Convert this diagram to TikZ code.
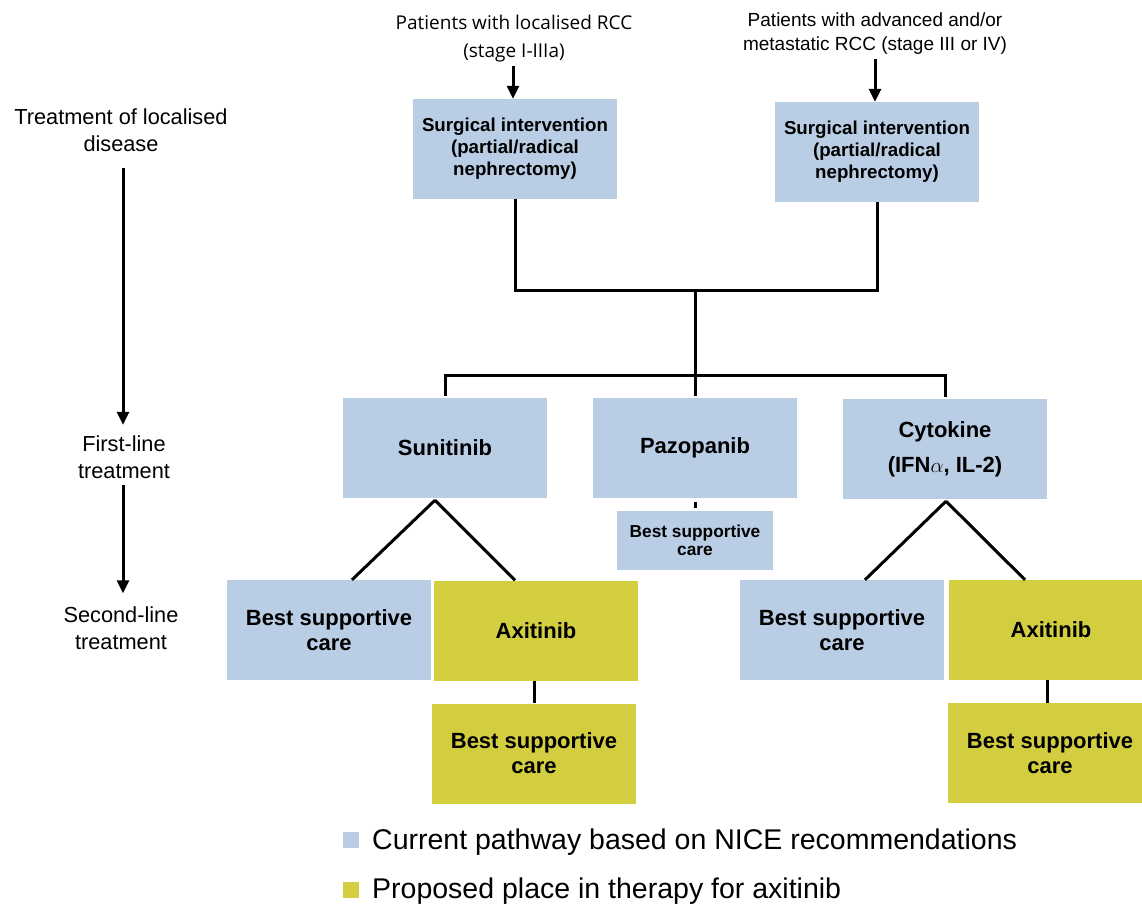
\documentclass[tikz,border=0pt]{standalone}
\usepackage{fontspec}
\setmainfont{Liberation Sans}
\newfontfamily\opensans{Open Sans}
\usetikzlibrary{arrows.meta}
\definecolor{niceblue}{HTML}{B9CDE5}
\definecolor{axiyellow}{HTML}{D3CE40}
\begin{document}
\begin{tikzpicture}[x=1pt,y=-1pt,
  box/.style={fill=niceblue, draw=none, inner sep=0pt, align=center,
    font=\fontsize{22}{25}\selectfont\bfseries,
    minimum width=204pt, minimum height=100pt},
  ybox/.style={box, fill=axiyellow},
  link/.style={line width=3pt, black},
  arr/.style={line width=3pt, black, -{Triangle[length=13pt,width=12pt]}},
  phase/.style={align=center, inner sep=0pt, font=\fontsize{21.75}{27}\selectfont},
  legtext/.style={anchor=base west, inner sep=0pt, font=\fontsize{28.5}{30}\selectfont},
  legsq/.style={minimum size=16pt, inner sep=0pt, draw=none},
]
\useasboundingbox (0,0) rectangle (1142,906);
\clip (0,0) rectangle (1142,906);

% phase labels on the left
\node[phase] (ph1) at (121,130.5) {Treatment of localised\\disease};
\node[phase] (ph2) at (124,457.5) {First-line\\treatment};
\node[phase] (ph3) at (121,628) {Second-line\\treatment};
\draw[arr, shorten <=16pt, shorten >=11pt] (ph1.south -| 123,0) -- (ph2.north -| 123,0);
\draw[arr, shorten <=6pt, shorten >=13pt] (ph2.south -| 123,0) -- (ph3.north -| 123,0);

% patient groups
\node[align=center, inner sep=1pt, font=\opensans\fontsize{19}{27.5}\selectfont] (pat1) at (514,38.5)
  {Patients with localised RCC\\(stage I-IIIa)};
\node[align=center, inner sep=1pt, font=\fontsize{19}{24}\selectfont] (pat2) at (875,34)
  {Patients with advanced and/or\\metastatic RCC (stage III or IV)};

% surgery
\node[box, font=\fontsize{18.7}{22}\selectfont\bfseries] (surg1) at (515,149)
  {\raisebox{-3pt}{\parbox{200pt}{\centering Surgical intervention\\(partial/radical\\nephrectomy)}}};
\node[box, font=\fontsize{18.7}{22}\selectfont\bfseries] (surg2) at (877,152)
  {\raisebox{-3pt}{\parbox{200pt}{\centering Surgical intervention\\(partial/radical\\nephrectomy)}}};
\draw[arr, shorten <=3pt] (pat1.south -| 513,0) -- (surg1.north -| 513,0);
\draw[arr, shorten <=3pt] (pat2.south -| 875,0) -- (surg2.north -| 875,0);

% first-line treatments
\node[box] (sun) at (445,448) {Sunitinib};
\node[box] (paz) at (695,448) {\raisebox{-2pt}{Pazopanib}};
\node[box, font=\fontsize{22}{35}\selectfont\bfseries] (cyt) at (945,449)
  {Cytokine\\(IFN$\alpha$, IL-2)};
\node[box, font=\fontsize{17.3}{18.5}\selectfont\bfseries,
  minimum width=156pt, minimum height=59pt] (bscp) at (695,540.5)
  {Best supportive\\care};

% merging connectors
\coordinate (jtop) at (695,290);
\coordinate (jbot) at (695,375);
\draw[link] (surg1.south) |- (jtop) -| (surg2.south);
\draw[link] (jtop) -- (jbot);
\draw[link, shorten >=2pt] (jbot) -- (paz.north);
\draw[link, shorten >=2pt] (jbot) -| (sun.north);
\draw[link, shorten >=2pt] (jbot) -| (cyt.north);
\draw[link, shorten <=4pt, shorten >=3pt] (paz.south) -- (bscp.north);

% second-line treatments
\node[box] (bsc1) at (329,630) {Best supportive\\care};
\node[ybox] (axi1) at (536,630.5) {Axitinib};
\node[ybox] (bsc1y) at (534,753.5) {Best supportive\\care};
\node[box] (bsc2) at (842,630) {Best supportive\\care};
\node[ybox] (axi2) at (1051,630) {Axitinib};
\node[ybox] (bsc2y) at (1050,753) {Best supportive\\care};

\draw[link] ([xshift=-10pt, yshift=-2pt]sun.south) -- ([xshift=23pt]bsc1.north);
\draw[link] ([xshift=-10pt, yshift=-2pt]sun.south) -- ([xshift=-21pt]axi1.north);
\draw[link] ([xshift=1pt, yshift=-2pt]cyt.south) -- ([xshift=23pt]bsc2.north);
\draw[link] ([xshift=1pt, yshift=-2pt]cyt.south) -- ([xshift=-26pt]axi2.north);
\draw[link] (axi1.south -| bsc1y.north) -- (bsc1y.north);
\draw[link] (axi2.south -| 1047,0) -- (bsc2y.north -| 1047,0);

% legend
\node[legsq, fill=niceblue] (lg1) at (351,840) {};
\node[legtext] (lt1) at (372,849) {Current pathway based on NICE recommendations};
\node[legsq, fill=axiyellow] (lg2) at (351,890) {};
\node[legtext] (lt2) at (372,898) {Proposed place in therapy for axitinib};
\end{tikzpicture}
\end{document}
